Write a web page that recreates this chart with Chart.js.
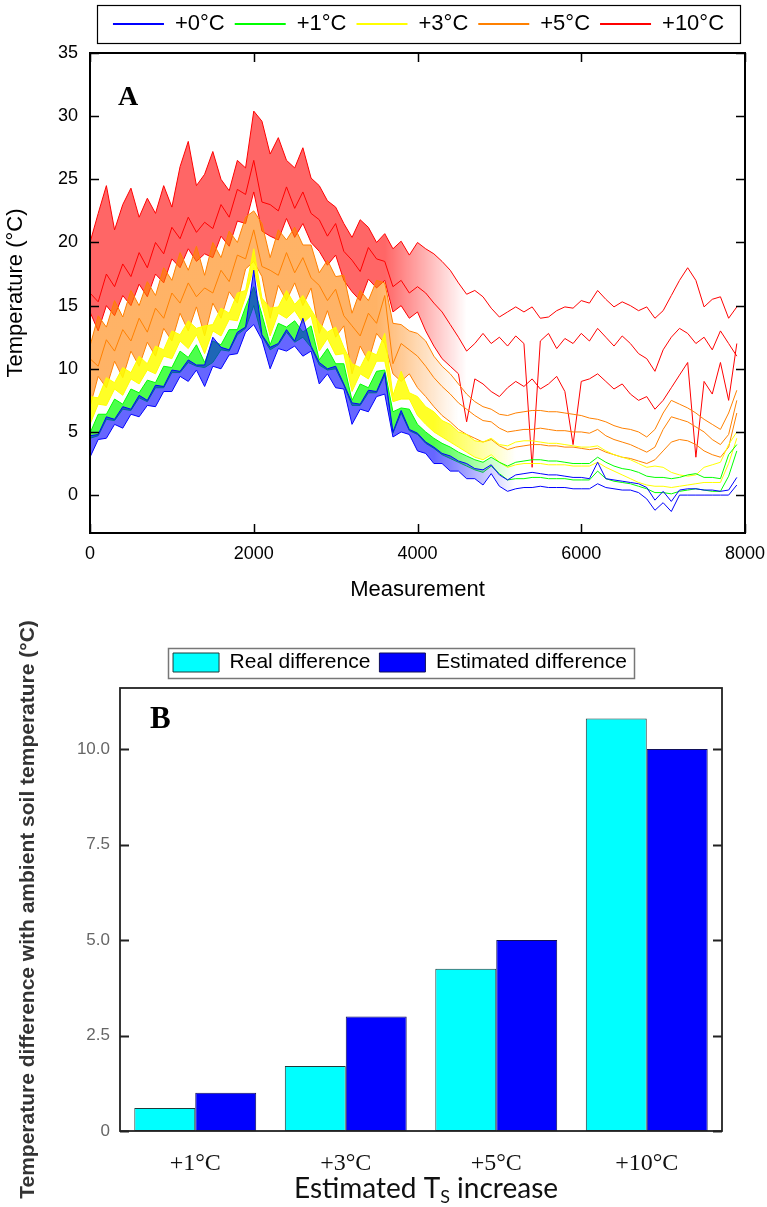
<!DOCTYPE html>
<html>
<head>
<meta charset="utf-8">
<script src="https://cdn.jsdelivr.net/npm/chart.js@4.4.1/dist/chart.umd.min.js"></script>
<style>
  html, body { margin: 0; padding: 0; background: #fff; }
  body { width: 767px; height: 1207px; position: relative; overflow: hidden; }
  #wrapA { position: absolute; left: 0; top: 0; width: 767px; height: 610px; }
  #wrapB { position: absolute; left: 0; top: 610px; width: 767px; height: 597px; }
</style>
</head>
<body>
<div id="wrapA"><canvas id="chartA" width="767" height="610"></canvas></div>
<div id="wrapB"><canvas id="chartB" width="767" height="597"></canvas></div>
<script>
const measurement = [0,100,200,300,400,500,600,700,800,900,
  1000,1100,1200,1300,1400,1500,1600,1700,1800,1900,
  2000,2100,2200,2300,2400,2500,2600,2700,2800,2900,
  3000,3100,3200,3300,3400,3500,3600,3700,3800,3900,
  4000,4100,4200,4300,4400,4500,4600,4700,4800,4900,
  5000,5100,5200,5300,5400,5500,5600,5700,5800,5900,
  6000,6100,6200,6300,6400,6500,6600,6700,6800,6900,
  7000,7100,7200,7300,7400,7500,7600,7700,7800,7900];

const treatments = ['+0°C', '+1°C', '+3°C', '+5°C', '+10°C'];
const treatmentColors = ['#0000ff', '#00ff00', '#ffff00', '#ff8000', '#ff0000'];
// shading of the dense, noisy part of each treatment band
const bandRGB = ['0,0,255', '0,255,0', '255,255,0', '255,128,0', '255,0,0'];
const bandAlpha = [0.6, 0.7, 0.85, 0.6, 0.6];
const bandFadeStart = [4200, 4200, 4200, 3500, 3600];
const bandFadeEnd = [5200, 5200, 5200, 4500, 4600];

const blue1 = [3.0,4.4,4.5,5.6,5.3,6.4,6.2,7.1,7.0,8.2,
  8.2,9.4,9.0,9.9,8.6,10.2,10.0,11.1,11.2,12.9,
  13.5,12.3,10.0,11.6,11.4,11.8,11.0,11.4,8.8,9.6,
  8.5,8.4,5.6,6.8,6.6,7.8,8.0,4.6,5.0,4.8,
  3.5,3.3,2.5,2.5,1.9,1.9,1.3,1.3,0.8,1.7,
  0.7,0.3,0.5,0.6,0.6,0.7,0.6,0.6,0.6,0.5,
  0.5,0.5,0.9,0.6,0.5,0.4,0.4,0.2,-0.3,-1.2,
  -0.6,-1.3,0.0,0.0,0.0,0.0,0.0,0.0,0.0,0.8];
const blue2 = [4.7,4.8,6.2,6.0,7.0,6.8,7.9,7.5,8.7,8.6,
  9.9,9.8,10.7,10.3,10.3,12.5,11.7,11.5,12.9,13.3,
  17.8,12.7,11.7,12.0,13.1,12.2,14.0,11.8,10.5,10.0,
  10.2,8.8,7.3,7.2,8.3,8.2,9.7,5.0,6.7,5.2,
  4.9,4.2,3.8,3.3,3.1,2.7,2.5,2.1,2.0,2.4,
  1.6,1.2,1.6,1.7,1.8,1.7,1.6,1.6,1.5,1.4,
  1.4,1.3,2.6,1.3,1.2,1.1,1.0,0.9,0.6,-0.4,
  0.3,-0.5,0.4,0.5,0.5,0.4,0.4,0.3,0.4,1.4];
const green1 = [4.5,4.7,6.0,5.9,6.8,6.7,7.7,7.4,8.5,8.5,
  9.7,9.7,10.5,10.2,10.1,10.5,11.5,11.4,12.7,13.2,
  15.0,12.6,11.5,11.9,12.9,12.1,12.5,11.7,10.3,9.9,
  10.0,8.7,7.1,7.1,8.1,8.1,9.5,4.9,6.5,5.1,
  4.8,4.1,3.7,3.2,2.9,2.6,2.3,2.0,1.8,2.3,
  1.7,1.2,1.3,1.3,1.4,1.4,1.3,1.3,1.3,1.2,
  1.2,1.2,1.9,1.3,1.1,1.0,0.9,0.7,0.5,0.2,
  0.2,0.1,0.3,0.4,0.5,0.4,0.3,0.3,1.5,3.5];
const green2 = [4.9,6.4,6.4,7.6,7.2,8.4,8.1,9.1,8.9,10.2,
  10.1,11.4,10.9,11.9,10.5,12.2,11.9,13.1,13.1,14.9,
  16.5,14.3,11.9,13.6,13.3,13.8,12.9,13.4,10.7,11.6,
  10.4,10.4,7.5,8.8,8.5,9.8,9.9,6.6,6.9,6.8,
  5.6,5.0,4.5,4.1,3.8,3.4,3.1,2.8,2.6,3.0,
  2.6,2.3,2.6,2.7,2.8,2.8,2.7,2.7,2.6,2.5,
  2.5,2.5,3.0,2.6,2.3,2.1,2.0,1.8,1.5,1.4,
  1.4,1.3,1.4,1.6,1.7,1.4,1.4,1.3,3.2,4.0];
const yellow1 = [5.6,7.2,7.1,8.4,7.9,9.2,8.8,9.9,9.6,11.0,
  10.8,12.2,11.6,12.7,11.2,13.0,12.6,13.9,13.8,15.7,
  18.0,15.1,12.6,14.4,14.0,14.6,13.6,14.2,11.4,12.4,
  11.1,11.2,8.2,9.6,9.2,10.6,10.6,7.4,7.6,7.6,
  6.3,5.6,5.0,4.6,4.2,3.8,3.4,3.0,2.8,3.2,
  2.6,2.2,2.4,2.5,2.5,2.5,2.4,2.4,2.4,2.3,
  2.3,2.3,2.6,2.2,1.9,1.6,1.3,1.0,0.8,0.7,
  0.7,0.6,0.7,0.8,0.9,1.0,1.0,1.0,2.5,4.5];
const yellow2 = [7.8,7.7,9.3,8.9,10.1,9.7,11.0,10.4,11.8,11.5,
  13.0,12.7,13.8,13.2,13.4,13.5,14.8,14.4,16.0,16.2,
  19.5,15.6,14.8,14.9,16.2,15.1,15.8,14.7,13.6,12.9,
  13.3,11.7,10.4,10.1,11.4,11.1,12.8,7.9,9.8,8.1,
  7.8,7.0,6.6,5.9,5.6,5.0,4.8,4.3,4.2,4.5,
  4.0,3.9,4.2,4.3,4.3,4.2,4.1,4.1,4.0,3.9,
  3.8,3.8,3.9,3.5,3.2,3.0,2.8,2.5,2.2,2.3,
  2.2,1.8,1.6,1.5,1.6,2.2,2.4,2.6,4.0,5.0];
const orange1 = [7.0,9.4,8.5,10.6,9.3,11.4,10.2,12.1,11.0,13.2,
  12.2,14.4,13.0,14.9,12.6,15.2,14.0,16.1,15.2,17.9,
  18.5,17.3,14.0,16.6,15.4,16.8,15.0,16.4,12.8,14.6,
  12.5,13.4,9.6,11.8,10.6,12.8,12.0,9.6,9.0,9.6,
  8.5,7.8,7.0,6.3,5.8,5.2,4.8,4.5,4.2,4.4,
  3.9,3.6,3.8,3.9,4.0,4.0,3.9,3.9,3.8,3.8,
  3.7,3.6,3.7,3.4,3.2,3.0,2.9,2.7,2.5,2.8,
  3.5,4.2,4.4,4.3,4.0,3.5,3.2,3.0,3.8,6.5];
const orange2 = [10.8,10.2,12.3,11.4,13.1,12.2,14.0,12.9,14.8,14.0,
  16.0,15.2,16.8,15.7,16.4,16.0,17.8,16.9,19.0,18.7,
  21.0,18.1,17.8,17.4,19.2,17.6,18.8,17.2,16.6,15.4,
  16.3,14.2,13.4,12.6,14.4,13.6,15.8,10.4,12.0,11.5,
  11.0,10.2,9.3,8.6,8.0,7.3,6.8,6.3,5.9,5.8,
  5.3,5.0,5.1,5.2,5.2,5.3,5.2,5.1,5.1,5.0,
  5.0,4.9,5.2,4.7,4.4,4.2,4.0,3.7,3.4,3.8,
  5.2,6.2,6.0,5.8,5.4,5.0,4.4,4.0,4.8,7.5];
const orange3 = [11.8,14.2,13.3,15.4,14.1,16.2,15.0,16.9,15.8,18.0,
  17.0,19.2,17.8,19.7,17.4,20.0,18.8,20.9,20.0,22.0,
  22.5,21.5,18.8,21.0,20.2,21.2,19.8,19.8,17.6,18.6,
  17.3,17.4,14.4,16.2,15.4,17.0,16.8,13.6,13.5,13.0,
  12.8,12.2,11.0,10.2,9.6,8.8,8.0,7.4,7.0,6.8,
  6.4,6.3,6.5,6.6,6.7,6.7,6.6,6.6,6.5,6.4,
  6.3,6.1,6.0,5.8,5.5,5.3,5.2,5.0,4.6,5.2,
  6.5,7.5,7.2,6.9,6.5,6.0,5.6,5.2,6.5,8.3];
const red1 = [20.0,22.3,24.5,21.0,23.0,24.3,22.0,23.5,22.3,24.5,
  22.8,26.0,28.0,24.5,25.4,27.2,25.0,24.1,26.5,25.9,
  30.4,29.6,27.0,28.3,26.5,25.9,27.5,25.1,24.5,23.3,
  22.8,21.5,20.4,21.8,21.2,20.0,20.7,19.5,20.1,19.0,
  20.0,19.5,19.1,18.5,17.8,16.8,15.9,16.2,15.7,14.8,
  14.1,14.5,14.9,14.5,14.9,14.0,14.1,14.6,14.9,14.8,
  15.4,15.2,16.2,15.5,14.9,15.3,15.0,14.6,14.9,14.0,
  14.6,15.8,17.0,18.0,17.0,14.9,15.5,15.7,14.0,14.9];
const red2 = [16.0,15.3,17.5,16.5,18.3,17.3,19.2,18.0,20.0,19.1,
  21.2,20.3,22.0,20.8,21.6,21.1,23.0,22.0,24.2,23.8,
  26.5,23.2,23.0,22.5,24.4,22.7,24.0,22.3,21.8,20.5,
  21.5,19.3,18.6,17.7,19.6,18.7,18.5,16.5,17.0,16.0,
  16.5,16.0,15.2,14.5,13.5,12.5,11.4,12.0,12.8,12.0,
  12.5,11.8,12.6,12.0,2.2,12.2,12.8,11.6,12.4,12.0,
  12.8,12.2,13.2,12.5,11.8,12.6,12.0,11.2,10.8,9.8,
  11.5,12.5,13.2,12.8,12.0,12.5,11.5,13.0,12.0,11.0];
const red3 = [14.5,13.0,15.0,14.2,15.8,15.0,16.7,15.7,17.5,16.8,
  18.7,18.0,19.5,18.5,19.1,18.8,20.5,19.7,21.7,21.5,
  24.0,20.9,20.5,20.2,21.9,20.4,21.5,20.0,19.3,18.2,
  19.0,17.0,16.1,15.4,17.1,16.4,17.0,14.5,15.0,14.0,
  14.5,13.0,11.8,10.8,10.2,9.6,5.8,9.2,8.8,8.2,
  7.8,8.5,9.0,8.6,9.2,8.4,8.8,9.4,8.2,4.0,
  9.0,9.2,9.6,9.0,8.4,8.8,8.0,7.5,7.8,6.8,
  7.5,8.5,9.5,10.5,3.0,9.0,8.0,10.5,7.5,12.0];

const xTicksA = [0, 2000, 4000, 6000, 8000];
const yTicksA = [0, 5, 10, 15, 20, 25, 30, 35];

// ---- Panel B data ----
const categoriesB = ['+1°C', '+3°C', '+5°C', '+10°C'];
const realDiff = [0.6, 1.7, 4.25, 10.8];
const estimatedDiff = [1.0, 3.0, 5.0, 10.0];
const yTicksB = [0, 2.5, 5, 7.5, 10];
const yTickLabelsB = ['0', '2.5', '5.0', '7.5', '10.0'];

Chart.defaults.font.family = "'Liberation Sans', Arial, sans-serif";
Chart.defaults.color = '#000';
Chart.defaults.animation = false;

// full frame plus inward tick marks
function frameTicks(cfg) {
    return {
        id: 'frameTicks',
        afterDraw(chart) {
            const {ctx, chartArea: a, scales} = chart;
            ctx.save();
            ctx.strokeStyle = cfg.color;
            ctx.lineWidth = cfg.tickWidth;
            ctx.beginPath();
            scales.y.ticks.forEach(t => {
                const py = Math.round(scales.y.getPixelForValue(t.value)) + 0.5;
                ctx.moveTo(a.left, py); ctx.lineTo(a.left + cfg.len, py);
                ctx.moveTo(a.right, py); ctx.lineTo(a.right - cfg.len, py);
            });
            if (cfg.xTicks) {
                scales.x.ticks.forEach(t => {
                    const px = Math.round(scales.x.getPixelForValue(t.value)) + 0.5;
                    ctx.moveTo(px, a.top); ctx.lineTo(px, a.top + cfg.len);
                    ctx.moveTo(px, a.bottom); ctx.lineTo(px, a.bottom - cfg.len);
                });
            }
            ctx.stroke();
            ctx.lineWidth = cfg.borderWidth;
            ctx.strokeRect(a.left, a.top, a.right - a.left, a.bottom - a.top);
            ctx.restore();
        }
    };
}

// fixed legend height, shift, and a box round the legend
function legendFrame(cfg) {
    return {
        id: 'legendFrame',
        beforeUpdate(chart) {
            const lg = chart.legend;
            if (lg && !lg._fixed) {
                const fit = lg.fit;
                lg.fit = function () { fit.call(this); this.height = cfg.height; };
                lg._fixed = true;
            }
        },
        afterLayout(chart) {
            const lg = chart.legend;
            lg.left += cfg.dx; lg.right += cfg.dx;
            lg.top += cfg.dy; lg.bottom += cfg.dy;
        },
        afterDraw(chart) {
            const hb = chart.legend.legendHitBoxes;
            if (!hb || !hb.length) return;
            const first = hb[0], last = hb[hb.length - 1];
            const cy = first.top + first.height / 2;
            const x0 = first.left - cfg.padL;
            const x1 = last.left + last.width + cfg.padR;
            const ctx = chart.ctx;
            ctx.save();
            ctx.strokeStyle = cfg.color;
            ctx.lineWidth = cfg.lineWidth;
            ctx.strokeRect(Math.round(x0) + 0.5, Math.round(cy - cfg.halfH) + 0.5,
                Math.round(x1 - x0), Math.round(cfg.halfH * 2));
            ctx.restore();
        }
    };
}

function panelLetter(txt, dx, dy, size) {
    return {
        id: 'panelLetter',
        afterDraw(chart) {
            const ctx = chart.ctx;
            ctx.save();
            ctx.font = 'bold ' + size + "px 'Liberation Serif', 'Times New Roman', serif";
            ctx.fillStyle = '#000';
            ctx.textBaseline = 'alphabetic';
            ctx.fillText(txt, chart.chartArea.left + dx, chart.chartArea.top + dy);
            ctx.restore();
        }
    };
}

// band shading fades out (horizontal gradient) where the sensors separate
function bandFill(t) {
    return c => {
        const chart = c.chart;
        const solid = 'rgba(' + bandRGB[t] + ',' + bandAlpha[t] + ')';
        if (!chart.chartArea || !chart.scales.x) return solid;
        const x0 = chart.scales.x.getPixelForValue(bandFadeStart[t]);
        const x1 = chart.scales.x.getPixelForValue(bandFadeEnd[t]);
        const g = chart.ctx.createLinearGradient(x0, 0, x1, 0);
        g.addColorStop(0, solid);
        g.addColorStop(1, 'rgba(' + bandRGB[t] + ',0)');
        return g;
    };
}

// ---- PANEL A ----
// [treatment index, values, index of the sensor its band is filled to]
const sensorsA = [
    [0, blue1, 1], [0, blue2, false],
    [1, green1, 3], [1, green2, false],
    [2, yellow1, 5], [2, yellow2, false],
    [3, orange1, 8], [3, orange2, false], [3, orange3, false],
    [4, red1, 11], [4, red2, false], [4, red3, false]
];

new Chart(document.getElementById('chartA'), {
    type: 'line',
    data: {
        datasets: sensorsA.map(([t, vals, band]) => ({
            label: treatments[t],
            data: measurement.map((m, i) => ({x: m, y: vals[i]})),
            borderColor: treatmentColors[t],
            backgroundColor: bandFill(t),
            borderWidth: 1,
            pointRadius: 0,
            fill: band,
            tension: 0
        }))
    },
    options: {
        responsive: false,
        devicePixelRatio: 1,
        layout: { padding: { left: 0, right: 22, top: 0, bottom: 0 } },
        plugins: {
            tooltip: { enabled: false },
            legend: {
                position: 'top',
                fullSize: false,
                labels: {
                    boxWidth: 51,
                    boxHeight: 2,
                    padding: 10,
                    color: '#000',
                    font: { size: 22 },
                    generateLabels(chart) {
                        const items = Chart.defaults.plugins.legend.labels.generateLabels(chart);
                        const seen = new Set();
                        return items.filter(it => {
                            if (seen.has(it.text)) return false;
                            seen.add(it.text);
                            return true;
                        }).map(it => Object.assign(it, { lineWidth: 0, fillStyle: it.strokeStyle }));
                    }
                }
            }
        },
        scales: {
            x: {
                type: 'linear',
                min: 0,
                max: 8000,
                afterBuildTicks: s => { s.ticks = xTicksA.map(v => ({value: v})); },
                afterFit: s => { s.height = 77; s.paddingRight = 0; s.paddingLeft = 0; },
                grid: { display: false, drawTicks: false },
                border: { display: false },
                ticks: { padding: 10, font: { size: 18 }, color: '#000', callback: v => String(v) },
                title: { display: true, text: 'Measurement', font: { size: 22 }, color: '#000', padding: { top: 0, bottom: 7 } }
            },
            y: {
                min: -3,
                max: 35,
                afterBuildTicks: s => { s.ticks = yTicksA.map(v => ({value: v})); },
                afterFit: s => { s.width = 90; },
                grid: { display: false, drawTicks: false },
                border: { display: false },
                ticks: { padding: 12, font: { size: 18 }, color: '#000', callback: v => String(v) },
                title: { display: true, text: 'Temperature (°C)', font: { size: 22 }, color: '#000', padding: { top: 3, bottom: 0 } }
            }
        }
    },
    plugins: [
        frameTicks({ color: '#000', len: 9, tickWidth: 1.5, borderWidth: 2, xTicks: true }),
        legendFrame({ height: 53, dx: 1, dy: 3, padL: 16, padR: 16, halfH: 19, color: '#000', lineWidth: 1.2 }),
        panelLetter('A', 28, 52, 28)
    ]
});

// ---- PANEL B ----
const xTitleB = {
    id: 'xTitleB',
    afterDraw(chart) {
        const ctx = chart.ctx;
        const a = chart.chartArea;
        const big = "28px Lato, 'Open Sans', sans-serif";
        const small = "18px Lato, 'Open Sans', sans-serif";
        const parts = [['Estimated T', big, 0], ['S', small, 8], [' increase', big, 0]];
        ctx.save();
        ctx.fillStyle = '#111';
        ctx.textBaseline = 'middle';
        let total = 0;
        parts.forEach(p => { ctx.font = p[1]; total += ctx.measureText(p[0]).width; });
        let x = (a.left + a.right) / 2 + 5 - total / 2;
        const y = 579;
        parts.forEach(p => {
            ctx.font = p[1];
            ctx.fillText(p[0], x, y + p[2]);
            x += ctx.measureText(p[0]).width;
        });
        ctx.restore();
    }
};

new Chart(document.getElementById('chartB'), {
    type: 'bar',
    data: {
        labels: categoriesB,
        datasets: [
            {
                label: 'Real difference',
                data: realDiff,
                backgroundColor: '#00ffff',
                borderColor: '#1f3a3a',
                borderWidth: 1,
                borderSkipped: false
            },
            {
                label: 'Estimated difference',
                data: estimatedDiff,
                backgroundColor: '#0000ff',
                borderColor: '#10105a',
                borderWidth: 1,
                borderSkipped: false
            }
        ]
    },
    options: {
        responsive: false,
        devicePixelRatio: 1,
        layout: { padding: { left: 0, right: 45, top: 0, bottom: 0 } },
        datasets: { bar: { categoryPercentage: 0.81, barPercentage: 1.0 } },
        plugins: {
            tooltip: { enabled: false },
            legend: {
                position: 'top',
                fullSize: false,
                labels: {
                    boxWidth: 46,
                    boxHeight: 19,
                    padding: 9,
                    color: '#000',
                    font: { size: 21 }
                }
            }
        },
        scales: {
            x: {
                afterFit: s => { s.height = 76; },
                grid: { display: false, drawTicks: false },
                border: { display: false },
                ticks: { padding: 18, color: '#111', font: { size: 24, family: "'Liberation Serif', 'Times New Roman', serif" } }
            },
            y: {
                min: 0,
                max: 11.6,
                afterBuildTicks: s => { s.ticks = yTicksB.map(v => ({value: v})); },
                afterFit: s => { s.width = 120; },
                grid: { display: false, drawTicks: false },
                border: { display: false },
                ticks: {
                    padding: 10,
                    color: '#666',
                    font: { size: 17 },
                    callback: v => yTickLabelsB[yTicksB.indexOf(v)]
                },
                title: {
                    display: true,
                    text: 'Temperature difference with ambient soil temperature (°C)',
                    color: '#333',
                    font: { size: 21, weight: 'bold' },
                    padding: { top: 16, bottom: 0 }
                }
            }
        }
    },
    plugins: [
        frameTicks({ color: '#222', len: 9, tickWidth: 2, borderWidth: 1.8, xTicks: false }),
        legendFrame({ height: 78, dx: -21, dy: 33, padL: 5, padR: 7, halfH: 15, color: '#777', lineWidth: 1.5 }),
        panelLetter('B', 30, 40, 31),
        xTitleB
    ]
});
</script>
</body>
</html>
